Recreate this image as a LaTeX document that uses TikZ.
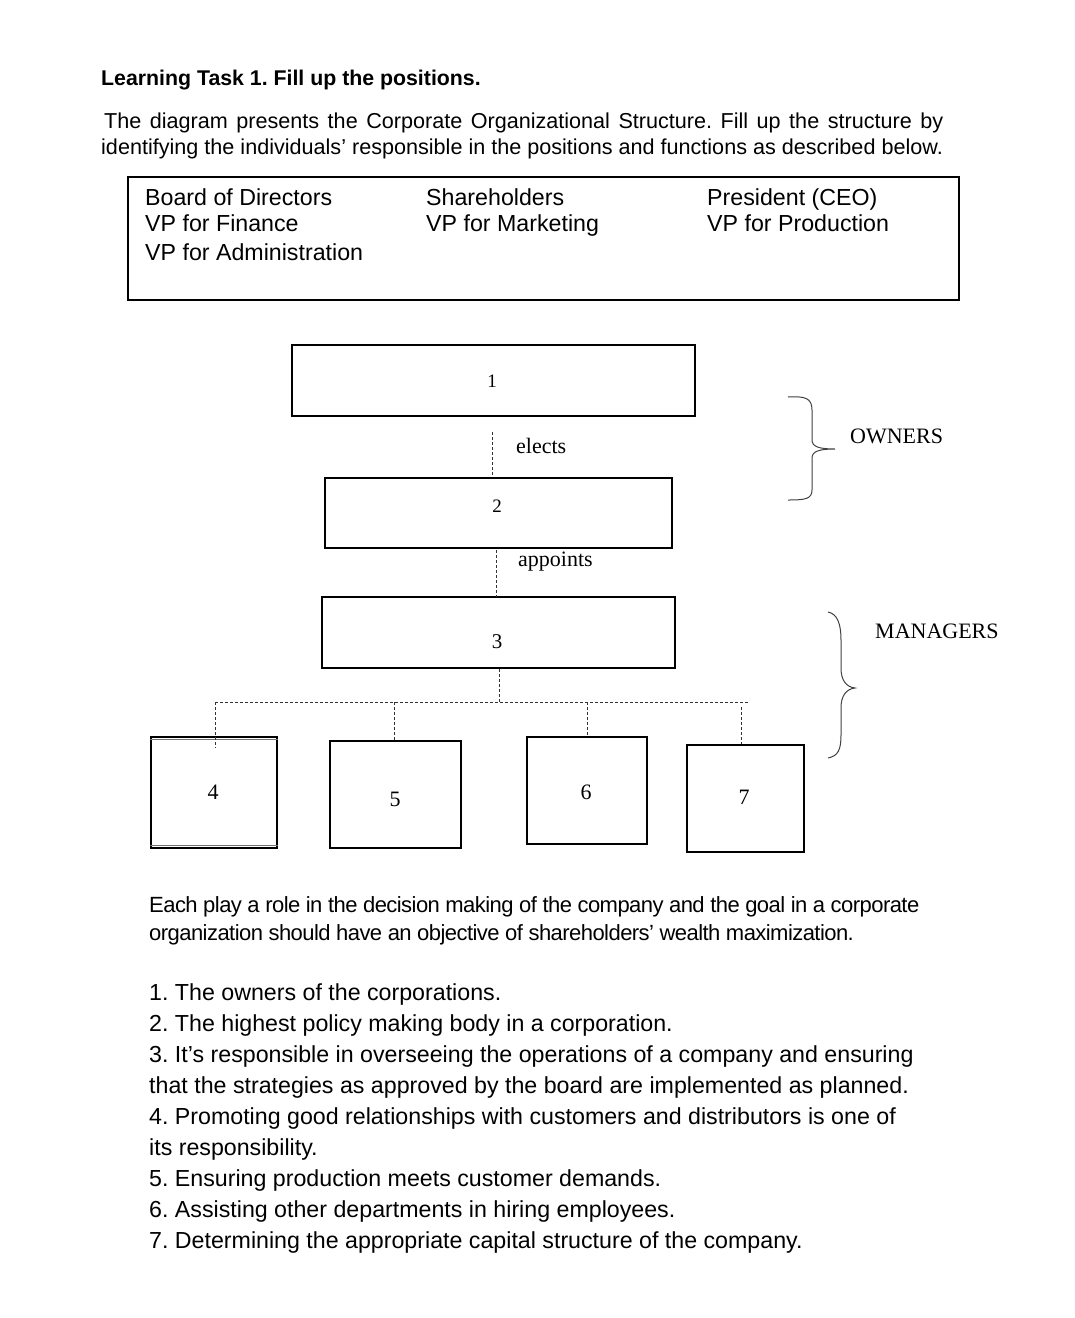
\documentclass[tikz,border=0pt]{standalone}
\usepackage{fontspec}
\setmainfont{Liberation Sans}
\newfontfamily\serifl{Liberation Serif}
\newfontfamily\tightsans[LetterSpace=-2.5]{Liberation Sans}
\frenchspacing
\begin{document}
\begin{tikzpicture}[x=1pt,y=-1pt,
  txt/.style={anchor=base west,inner sep=0pt,font=\fontsize{23.2}{27}\selectfont},
  itxt/.style={anchor=base west,inner sep=0pt,font=\fontsize{21.6}{26}\selectfont},
  ptxt/.style={anchor=base west,inner sep=0pt,font=\tightsans\fontsize{22}{26}\selectfont},
  box/.style={draw=black,line width=1.6pt,inner sep=0pt},
  lab/.style={inner sep=0pt,font=\serifl\fontsize{22}{26}\selectfont},
  numl/.style={inner sep=0pt,font=\serifl\fontsize{19}{22}\selectfont},
  conn/.style={draw=black!80,line width=0.9pt,dash pattern=on 3pt off 2pt},
  brace/.style={draw=black!75,line width=1pt}]
\useasboundingbox[fill=white] (0,0) rectangle (1075,1318);
% header
\node[anchor=base west,inner sep=0pt,font=\bfseries\fontsize{21.3}{25}\selectfont] (title) at (101,85) {Learning Task 1. Fill up the positions.};
\node[itxt] (intro1) at (104,128) {\makebox[839pt][s]{The diagram presents the Corporate Organizational Structure. Fill up the structure by}};
\node[itxt] (intro2) at (101,154) {identifying the individuals’ responsible in the positions and functions as described below.};
% choice box
\draw[line width=1.6pt] (128,177) rectangle (959,300);
\node[txt] (c1a) at (145,205) {Board of Directors};
\node[txt] (c1b) at (145,231) {VP for Finance};
\node[txt] (c1c) at (145,260) {VP for Administration};
\node[txt] (c2a) at (426,205) {Shareholders};
\node[txt] (c2b) at (426,231) {VP for Marketing};
\node[txt] (c3a) at (707,205) {President (CEO)};
\node[txt] (c3b) at (707,231) {VP for Production};
% boxes
\node[box,minimum width=403pt,minimum height=71pt] (b1) at (493.5,380.5) {};
\node[numl] at (492,381) {1};
\node[box,minimum width=347pt,minimum height=70pt] (b2) at (498.5,513) {};
\node[numl] at (497,506) {2};
\node[box,minimum width=353pt,minimum height=71pt] (b3) at (498.5,632.5) {};
\node[numl,font=\serifl\fontsize{21}{24}\selectfont] at (497,642) {3};
\node[box,minimum width=126pt,minimum height=111pt] (b4) at (214,792.5) {};
\draw[black!55,line width=1.2pt] ([yshift=-3.5pt]b4.north west) -- ([yshift=-3.5pt]b4.north east);
\draw[black!55,line width=1.2pt] ([yshift=3.5pt]b4.south west) -- ([yshift=3.5pt]b4.south east);
\node[lab] at (213,792) {4};
\node[box,minimum width=131pt,minimum height=107pt] (b5) at (395.5,794.5) {};
\node[lab] at (395,799) {5};
\node[box,minimum width=120pt,minimum height=107pt] (b6) at (587,790.5) {};
\node[lab] at (586,792) {6};
\node[box,minimum width=117pt,minimum height=107pt] (b7) at (745.5,798.5) {};
\node[lab] at (744,797) {7};
% connectors
\coordinate (e1) at (492,432);
\coordinate (e2) at (492,476);
\draw[conn] (e1) -- (e2);
\node[lab,anchor=west] (elects) at (516,446) {elects};
\coordinate (a1) at (496,550);
\coordinate (a2) at (496,597);
\draw[conn] (a1) -- (a2);
\node[lab,anchor=west] (appoints) at (518,562) {appoints};
\coordinate (j) at (499,702);
\coordinate (hl) at (215,702);
\coordinate (hr) at (748,702);
\coordinate (v4) at (215,748);
\coordinate (t5) at (394,702);
\coordinate (t6) at (587,702);
\coordinate (t7) at (741,707);
\draw[conn] (b3.south -| j) -- (j);
\draw[conn] (hl) -- (hr);
\draw[conn] (hl) -- (v4);
\draw[conn] (t5) -- (t5 |- b5.north);
\draw[conn] (t6) -- (t6 |- b6.north);
\draw[conn] (t7) -- (t7 |- b7.north);
% braces
\draw[brace] (788,397) .. controls (805,396) and (812,398) .. (812,410) -- (812,440)
  .. controls (812,447) and (820,449) .. (835,449)
  .. controls (820,449) and (812,451) .. (812,458) -- (812,490)
  .. controls (812,499) and (805,500) .. (788,500);
\node[lab,anchor=west] (owners) at (850,436) {OWNERS};
\draw[brace] (828,612) .. controls (838,614) and (841,625) .. (841,640) -- (841,668)
  .. controls (841,680) and (846,687) .. (855,688)
  .. controls (846,689) and (841,696) .. (841,708) -- (841,735)
  .. controls (841,750) and (838,756) .. (828,758);
\node[lab,anchor=west] (managers) at (875,631) {MANAGERS};
% bottom text
\node[ptxt] (p1) at (149,912) {Each play a role in the decision making of the company and the goal in a corporate};
\node[ptxt] (p2) at (149,940) {organization should have an objective of shareholders’ wealth maximization.};
\node[txt] (l1) at (149,1000) {1. The owners of the corporations.};
\node[txt] (l2) at (149,1031) {2. The highest policy making body in a corporation.};
\node[txt] (l3) at (149,1062) {3. It’s responsible in overseeing the operations of a company and ensuring};
\node[txt] (l4) at (149,1093) {that the strategies as approved by the board are implemented as planned.};
\node[txt] (l5) at (149,1124) {4. Promoting good relationships with customers and distributors is one of};
\node[txt] (l6) at (149,1155) {its responsibility.};
\node[txt] (l7) at (149,1186) {5. Ensuring production meets customer demands.};
\node[txt] (l8) at (149,1217) {6. Assisting other departments in hiring employees.};
\node[txt] (l9) at (149,1248) {7. Determining the appropriate capital structure of the company.};
\end{tikzpicture}
\end{document}
